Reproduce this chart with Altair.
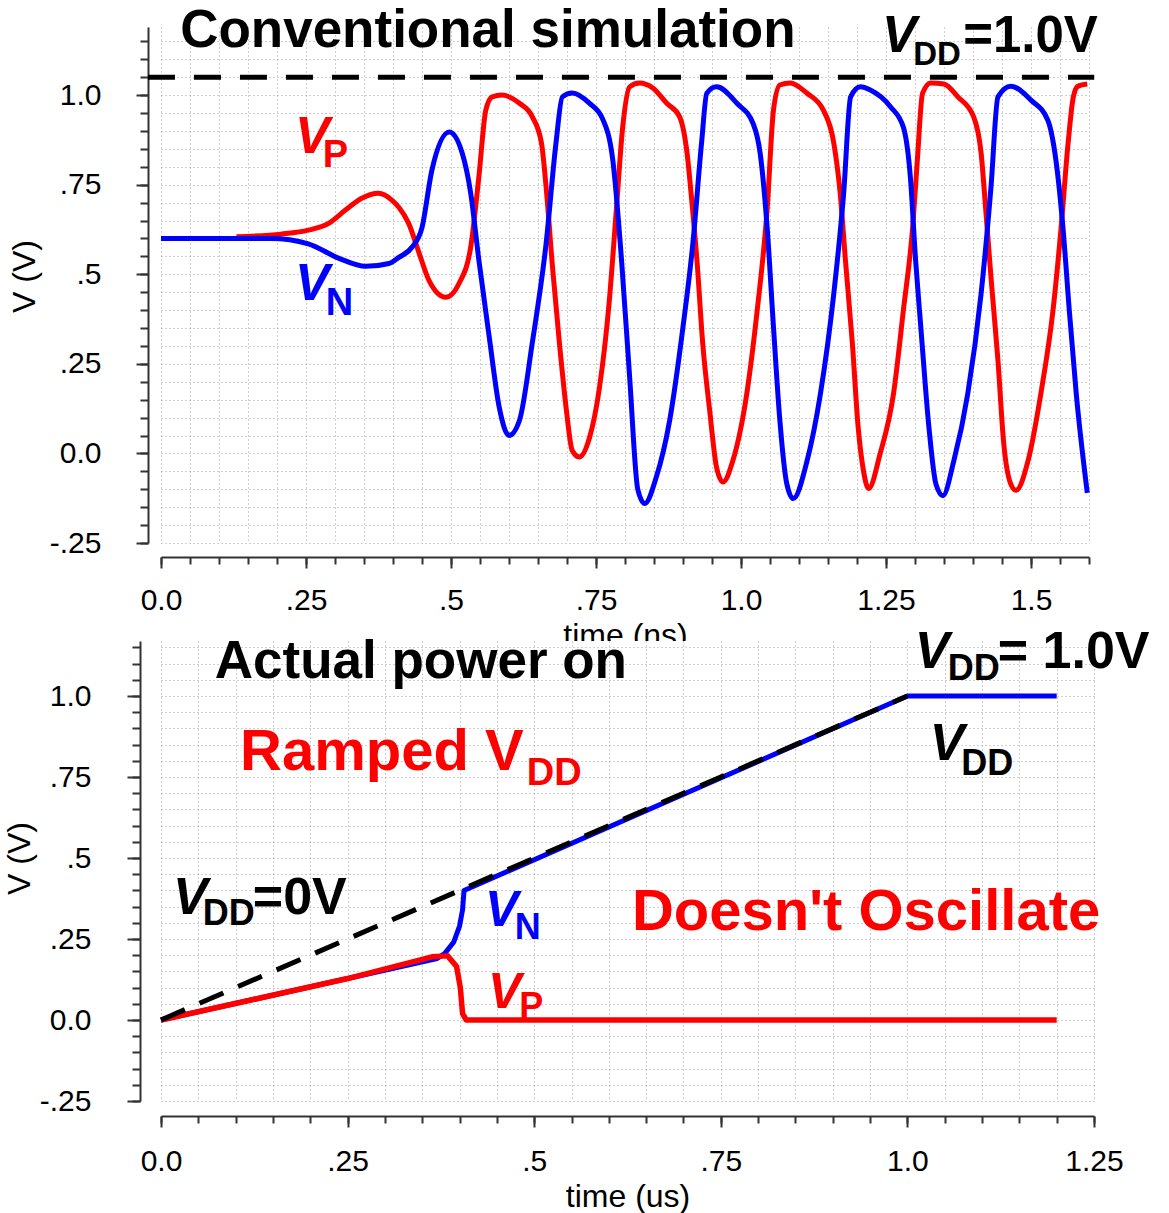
import altair as alt
import pandas as pd

# ---------------- top panel: conventional simulation (time in ns) ----------------
top_vn_t = [0.0, 0.19, 0.254, 0.306, 0.353, 0.393, 0.41, 0.433, 0.45, 0.467, 0.497, 0.519, 0.534,
            0.548, 0.566, 0.583, 0.6, 0.618, 0.64, 0.664, 0.681, 0.692, 0.709, 0.739, 0.761, 0.779,
            0.794, 0.808, 0.822, 0.834, 0.854, 0.877, 0.9, 0.917, 0.932, 0.941, 0.958, 0.993, 1.021,
            1.033, 1.045, 1.056, 1.067, 1.079, 1.09, 1.114, 1.137, 1.16, 1.177, 1.189, 1.206, 1.223,
            1.258, 1.28, 1.292, 1.301, 1.31, 1.324, 1.336, 1.348, 1.367, 1.391, 1.414, 1.431, 1.443,
            1.465, 1.5, 1.529, 1.543, 1.555, 1.566, 1.578, 1.597]
top_vn_v = [0.6, 0.6, 0.585, 0.545, 0.522, 0.53, 0.547, 0.576, 0.63, 0.79, 0.897, 0.84, 0.726,
            0.54, 0.324, 0.13, 0.05, 0.092, 0.307, 0.586, 0.866, 0.995, 1.006, 0.977, 0.935, 0.818,
            0.54, 0.213, -0.1, -0.14, -0.066, 0.092, 0.353, 0.586, 0.866, 1.005, 1.023, 0.977, 0.92,
            0.838, 0.632, 0.353, 0.092, -0.085, -0.126, -0.02, 0.167, 0.446, 0.726, 0.995, 1.023, 1.014,
            0.967, 0.91, 0.771, 0.54, 0.353, 0.073, -0.085, -0.118, -0.02, 0.167, 0.446, 0.743, 0.995,
            1.025, 0.986, 0.93, 0.818, 0.632, 0.4, 0.167, -0.11]

top_vp_t = [0.13, 0.207, 0.254, 0.289, 0.318, 0.346, 0.375, 0.398, 0.41, 0.427, 0.445, 0.462, 0.491,
            0.514, 0.534, 0.548, 0.56, 0.571, 0.588, 0.618, 0.64, 0.656, 0.664, 0.675, 0.687, 0.699,
            0.709, 0.721, 0.739, 0.756, 0.773, 0.785, 0.796, 0.808, 0.825, 0.848, 0.872, 0.894, 0.907,
            0.915, 0.924, 0.934, 0.946, 0.958, 0.969, 0.986, 1.01, 1.028, 1.045, 1.056, 1.067, 1.085,
            1.114, 1.142, 1.16, 1.171, 1.18, 1.192, 1.202, 1.211, 1.22, 1.24, 1.263, 1.28, 1.296,
            1.304, 1.313, 1.327, 1.35, 1.374, 1.401, 1.414, 1.422, 1.431, 1.443, 1.453, 1.465, 1.474,
            1.495, 1.517, 1.538, 1.552, 1.564, 1.573, 1.581, 1.597]
top_vp_v = [0.605, 0.612, 0.623, 0.642, 0.679, 0.712, 0.726, 0.707, 0.687, 0.642, 0.559, 0.483, 0.436,
            0.475, 0.576, 0.771, 0.958, 0.995, 1.0, 0.977, 0.94, 0.866, 0.743, 0.52, 0.307, 0.12,
            0.008, -0.01, 0.045, 0.184, 0.427, 0.679, 0.91, 1.023, 1.034, 1.02, 0.977, 0.94, 0.838,
            0.707, 0.54, 0.307, 0.12, -0.04, -0.08, -0.02, 0.167, 0.4, 0.679, 0.958, 1.028, 1.034,
            1.005, 0.958, 0.866, 0.726, 0.54, 0.307, 0.073, -0.047, -0.098, 0.0, 0.167, 0.4, 0.632,
            0.818, 1.005, 1.034, 1.031, 0.995, 0.94, 0.838, 0.679, 0.492, 0.26, 0.028, -0.085, -0.103,
            -0.02, 0.167, 0.4, 0.632, 0.866, 0.995, 1.025, 1.031]

top_vdd_t = [-0.0225, 1.609]
top_vdd_v = [1.05, 1.05]

top_x_ticks = [0.0, 0.25, 0.5, 0.75, 1.0, 1.25, 1.5]
top_x_labels = ["0.0", ".25", ".5", ".75", "1.0", "1.25", "1.5"]
y_ticks = [-0.25, 0.0, 0.25, 0.5, 0.75, 1.0]
y_labels = ["-.25", "0.0", ".25", ".5", ".75", "1.0"]

# ---------------- bottom panel: actual power on (time in us) ----------------
bot_ramp_t = [0.0, 1.0]
bot_ramp_v = [0.0, 1.0]
bot_vn_t = [0.0, 0.25, 0.37, 0.38, 0.392, 0.4, 0.404, 0.406, 1.0, 1.2]
bot_vn_v = [0.0, 0.128, 0.19, 0.205, 0.24, 0.29, 0.34, 0.40, 1.0, 1.0]
bot_vp_t = [0.0, 0.25, 0.363, 0.384, 0.396, 0.401, 0.404, 0.409, 1.2]
bot_vp_v = [0.0, 0.128, 0.195, 0.198, 0.165, 0.10, 0.02, 0.0, 0.0]

bot_x_ticks = [0.0, 0.25, 0.5, 0.75, 1.0, 1.25]
bot_x_labels = ["0.0", ".25", ".5", ".75", "1.0", "1.25"]

# annotations: (text, time, volts)
top_title = [("Conventional simulation", 0.033, 1.134)]
top_vdd_main = [("V", 1.243, 1.12)]
top_vdd_sub = [("DD", 1.297, 1.084)]
top_vdd_rest = [("=1.0V", 1.383, 1.12)]
top_vp_main = [("V", 0.231, 0.838)]
top_vp_sub = [("P", 0.279, 0.799)]
top_vn_main = [("V", 0.231, 0.427)]
top_vn_sub = [("N", 0.284, 0.385)]

bot_title = [("Actual power on", 0.072, 1.056)]
bot_black_main = [("V", 1.010, 1.086), ("V", 1.030, 0.802), ("V", 0.016, 0.327)]
bot_black_sub = [("DD", 1.054, 1.049), ("DD", 1.072, 0.756), ("DD", 0.056, 0.293)]
bot_black_rest = [("= 1.0V", 1.121, 1.086), ("=0V", 0.123, 0.327)]
bot_red_big = [("Ramped V", 0.106, 0.772), ("Doesn't Oscillate", 0.631, 0.278)]
bot_red_sub = [("DD", 0.490, 0.725)]
bot_vn_main = [("V", 0.434, 0.29)]
bot_vn_sub = [("N", 0.474, 0.25)]
bot_vp_main = [("V", 0.438, 0.037)]
bot_vp_sub = [("P", 0.480, 0.006)]

FONT = "Liberation Sans"
AX = "#333333"
RED = "#ff0000"
BLUE = "#0000ff"


def lab_expr(ticks, labels):
    expr = "''"
    for t, l in reversed(list(zip(ticks, labels))):
        expr = f"abs(datum.value - ({t})) < 0.0001 ? '{l}' : ({expr})"
    return expr


def minor_axis(values, orient, size, offset):
    return alt.Axis(values=values, orient=orient, offset=offset, tickSize=size, tickColor=AX,
                    tickWidth=2, labels=False, domain=True, domainColor=AX, domainWidth=2,
                    grid=True, gridColor="#a0a0a0", gridDash=[1, 3], gridWidth=1, title=None)


def major_axis(values, labels, orient, size, offset, title, lab_pad, title_pad, title_y=None):
    kw = dict(values=values, orient=orient, offset=offset, tickSize=size, tickColor=AX, tickWidth=2,
              labelExpr=lab_expr(values, labels), labelFont=FONT, labelFontSize=30,
              labelColor="black", labelPadding=lab_pad, labelFlush=False, labelOverlap=False,
              domain=False, grid=False, title=title, titleFont=FONT, titleFontSize=32,
              titleFontWeight="normal", titleColor="black", titlePadding=title_pad)
    if title_y is not None:
        kw["titleY"] = title_y
    return alt.Axis(**kw)


def line(t, v, color, width, xs, ys, xaxis=None, yaxis=None, dash=None, interp="linear"):
    df = pd.DataFrame({"t": t, "v": v, "i": list(range(len(t)))})
    props = dict(color=color, strokeWidth=width, clip=False, strokeJoin="round",
                 strokeCap="butt", interpolate=interp)
    if dash:
        props["strokeDash"] = dash
    return alt.Chart(df).mark_line(**props).encode(
        x=alt.X("t:Q", scale=xs, axis=xaxis),
        y=alt.Y("v:Q", scale=ys, axis=yaxis),
        order="i:Q",
    )


def texts(items, size, color, xs, ys, italic=False):
    df = pd.DataFrame(items, columns=["s", "t", "v"])
    props = dict(align="left", baseline="alphabetic", font=FONT, fontSize=size,
                 fontWeight="bold", color=color)
    if italic:
        props["fontStyle"] = "italic"
    return alt.Chart(df).mark_text(**props).encode(
        x=alt.X("t:Q", scale=xs, axis=None),
        y=alt.Y("v:Q", scale=ys, axis=None),
        text="s:N",
    )


def minor_vals(lo, hi):
    n = int(round((hi - lo) / 0.05))
    return [round(lo + i * 0.05, 3) for i in range(n + 1)]


# ---- top ----
txs = alt.Scale(domain=[0, 1.6], nice=False, zero=False)
tys = alt.Scale(domain=[-0.25, 1.19], nice=False, zero=False)

top = alt.layer(
    line(top_vp_t, top_vp_v, RED, 5, txs, tys,
         xaxis=minor_axis(minor_vals(0, 1.6), "bottom", 7, 14),
         yaxis=minor_axis(minor_vals(-0.25, 1.15), "left", 8, 13), interp="monotone"),
    line(top_vn_t, top_vn_v, BLUE, 5, txs, tys,
         xaxis=major_axis(top_x_ticks, top_x_labels, "bottom", 11, 14, "time (ns)", 17, 5),
         yaxis=major_axis(y_ticks, y_labels, "left", 12, 13, "V (V)", 35, 8, title_y=249),
         interp="monotone"),
    line(top_vdd_t, top_vdd_v, "black", 5, txs, tys, dash=[27, 19]),
    texts(top_title, 53, "black", txs, tys),
    texts(top_vdd_main, 52, "black", txs, tys, italic=True),
    texts(top_vdd_sub, 33, "black", txs, tys),
    texts(top_vdd_rest, 51, "black", txs, tys),
    texts(top_vp_main, 52, RED, txs, tys, italic=True),
    texts(top_vp_sub, 38, RED, txs, tys),
    texts(top_vn_main, 52, BLUE, txs, tys, italic=True),
    texts(top_vn_sub, 38, BLUE, txs, tys),
).resolve_axis(x="independent", y="independent").properties(width=928, height=516)

# ---- bottom ----
bxs = alt.Scale(domain=[0, 1.25], nice=False, zero=False)
bys = alt.Scale(domain=[-0.25, 1.17], nice=False, zero=False)

bottom = alt.layer(
    line(bot_vn_t, bot_vn_v, BLUE, 5, bxs, bys,
         xaxis=minor_axis(minor_vals(0, 1.25), "bottom", 7, 15),
         yaxis=minor_axis(minor_vals(-0.25, 1.15), "left", 8, 21)),
    line(bot_vp_t, bot_vp_v, RED, 5.5, bxs, bys,
         xaxis=major_axis(bot_x_ticks, bot_x_labels, "bottom", 11, 15, "time (us)", 19, 5),
         yaxis=major_axis(y_ticks, y_labels, "left", 13, 21, "V (V)", 36, 3, title_y=217)),
    line(bot_ramp_t, bot_ramp_v, "black", 5, bxs, bys, dash=[26, 16]),
    texts(bot_title, 53, "black", bxs, bys),
    texts(bot_black_main, 52, "black", bxs, bys, italic=True),
    texts(bot_black_sub, 36, "black", bxs, bys),
    texts(bot_black_rest, 52, "black", bxs, bys),
    texts(bot_red_big, 58, RED, bxs, bys),
    texts(bot_red_sub, 38, RED, bxs, bys),
    texts(bot_vn_main, 50, BLUE, bxs, bys, italic=True),
    texts(bot_vn_sub, 36, BLUE, bxs, bys),
    texts(bot_vp_main, 50, RED, bxs, bys, italic=True),
    texts(bot_vp_sub, 36, RED, bxs, bys),
).resolve_axis(x="independent", y="independent").properties(width=933, height=460)

chart = alt.vconcat(top, bottom, spacing=98, bounds="flush").configure_view(
    strokeWidth=0, fill="white"
).properties(padding={"left": 3, "top": 5, "right": 5, "bottom": 5}, background="white")

chart.save("out.html", embed_options={"renderer": "svg", "actions": False})
